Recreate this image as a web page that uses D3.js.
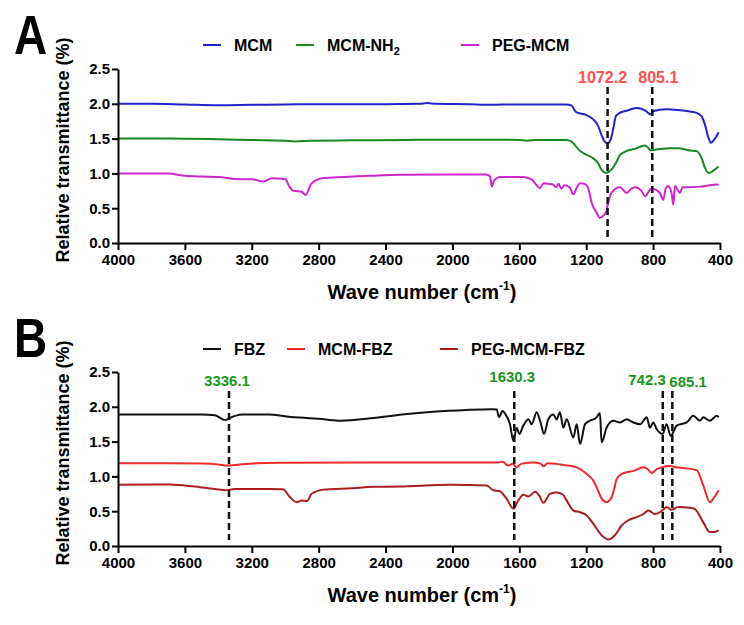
<!DOCTYPE html>
<html><head><meta charset="utf-8">
<script src="https://cdn.jsdelivr.net/npm/d3@7"></script>
<style>
html,body{margin:0;padding:0;background:#fff;}
svg text{font-family:"Liberation Sans",Arial,sans-serif;font-weight:bold;}
</style></head>
<body>
<svg id="c" width="744" height="625"></svg>
<script>
// ---- data (wave number cm^-1, relative transmittance) ----
const xTicks = [4000,3600,3200,2800,2400,2000,1600,1200,800,400];
const yTicks = [0,0.5,1.0,1.5,2.0,2.5];

const MCM = [[4000,2.0],[3800,2.0],[3600,1.99],[3400,1.98],[3200,1.985],[3000,1.99],[2800,1.995],[2600,1.995],[2400,1.995],[2200,2.0],[2150,2.01],[2100,2.0],[1900,1.995],[1800,1.985],[1700,1.99],[1600,1.99],[1450,1.99],[1320,1.99],[1290,1.98],[1260,1.88],[1200,1.84],[1160,1.78],[1130,1.69],[1110,1.56],[1090,1.46],[1074,1.43],[1055,1.48],[1040,1.62],[1023,1.82],[1000,1.87],[960,1.90],[900,1.94],[870,1.93],[840,1.89],[815,1.85],[800,1.89],[770,1.91],[720,1.92],[650,1.91],[580,1.89],[540,1.87],[510,1.82],[490,1.70],[470,1.52],[455,1.44],[430,1.50],[408,1.59]];

const MCM_NH2 = [[4000,1.50],[3700,1.50],[3400,1.49],[3200,1.48],[3000,1.47],[2940,1.46],[2850,1.47],[2600,1.475],[2300,1.48],[2000,1.485],[1800,1.485],[1600,1.48],[1556,1.47],[1500,1.48],[1320,1.48],[1290,1.46],[1240,1.33],[1200,1.27],[1160,1.22],[1130,1.15],[1108,1.05],[1082,1.005],[1050,1.05],[1020,1.16],[1000,1.26],[960,1.32],[900,1.36],[870,1.39],[850,1.40],[830,1.37],[815,1.33],[790,1.34],[760,1.35],[700,1.36],[650,1.36],[580,1.33],[540,1.32],[510,1.22],[490,1.08],[465,1.005],[440,1.04],[408,1.10]];

const PEG_MCM = [[4000,1.0],[3800,1.0],[3700,1.0],[3600,0.965],[3500,0.955],[3400,0.95],[3300,0.92],[3200,0.915],[3130,0.885],[3080,0.93],[3040,0.925],[3000,0.92],[2975,0.81],[2950,0.75],[2905,0.74],[2877,0.69],[2845,0.85],[2780,0.93],[2650,0.95],[2500,0.965],[2300,0.98],[2000,0.985],[1800,0.985],[1775,0.96],[1765,0.81],[1750,0.90],[1735,0.93],[1716,0.95],[1578,0.95],[1526,0.91],[1500,0.84],[1476,0.79],[1455,0.86],[1430,0.85],[1400,0.84],[1380,0.80],[1365,0.85],[1350,0.78],[1330,0.83],[1300,0.80],[1277,0.70],[1255,0.80],[1237,0.86],[1210,0.85],[1190,0.80],[1167,0.575],[1137,0.43],[1118,0.36],[1095,0.40],[1080,0.45],[1074,0.52],[1049,0.72],[999,0.80],[958,0.72],[930,0.78],[908,0.80],[870,0.75],[848,0.67],[820,0.76],[808,0.78],[780,0.76],[760,0.72],[739,0.62],[725,0.78],[710,0.82],[690,0.72],[679,0.55],[670,0.82],[650,0.75],[639,0.72],[625,0.80],[600,0.80],[520,0.81],[460,0.83],[408,0.84]];

const FBZ = [[4000,1.89],[3800,1.89],[3500,1.89],[3420,1.88],[3360,1.81],[3330,1.84],[3300,1.87],[3250,1.89],[3100,1.89],[2970,1.855],[2870,1.84],[2770,1.82],[2670,1.80],[2470,1.84],[2300,1.89],[2115,1.93],[1915,1.955],[1760,1.965],[1735,1.96],[1722,1.85],[1700,1.94],[1680,1.88],[1656,1.75],[1636,1.51],[1616,1.70],[1600,1.61],[1576,1.73],[1546,1.82],[1526,1.75],[1496,1.92],[1476,1.80],[1452,1.61],[1427,1.82],[1397,1.89],[1377,1.82],[1357,1.92],[1337,1.70],[1317,1.82],[1277,1.56],[1257,1.75],[1237,1.465],[1207,1.75],[1177,1.80],[1137,1.85],[1118,1.91],[1108,1.49],[1078,1.70],[1038,1.80],[998,1.775],[958,1.82],[918,1.775],[878,1.75],[838,1.85],[819,1.70],[799,1.775],[779,1.68],[743,1.61],[719,1.75],[695,1.58],[659,1.73],[599,1.775],[560,1.87],[520,1.80],[500,1.85],[460,1.80],[420,1.87],[408,1.85]];

const MCM_FBZ = [[4000,1.19],[3700,1.19],[3500,1.185],[3400,1.17],[3350,1.155],[3300,1.165],[3170,1.19],[3000,1.195],[2500,1.20],[2200,1.20],[1900,1.20],[1726,1.20],[1700,1.21],[1666,1.155],[1640,1.18],[1616,1.13],[1590,1.18],[1516,1.20],[1470,1.18],[1456,1.145],[1430,1.19],[1380,1.18],[1327,1.16],[1290,1.15],[1257,1.13],[1197,1.035],[1158,0.94],[1130,0.80],[1108,0.68],[1078,0.63],[1048,0.70],[1030,0.85],[1018,0.965],[988,1.035],[918,1.08],[858,1.13],[830,1.10],[808,1.05],[780,1.10],[749,1.13],[699,1.15],[660,1.13],[619,1.12],[540,1.09],[500,0.87],[460,0.63],[440,0.68],[408,0.80]];

const PEG_MCM_FBZ = [[4000,0.88],[3700,0.885],[3600,0.87],[3510,0.845],[3420,0.82],[3360,0.80],[3300,0.82],[3100,0.82],[3013,0.815],[2971,0.70],[2931,0.63],[2900,0.655],[2870,0.645],[2842,0.75],[2772,0.81],[2600,0.83],[2473,0.85],[2314,0.855],[2015,0.88],[1795,0.87],[1756,0.80],[1720,0.79],[1676,0.68],[1636,0.535],[1606,0.655],[1576,0.735],[1546,0.71],[1506,0.78],[1480,0.72],[1456,0.62],[1417,0.75],[1377,0.77],[1340,0.74],[1317,0.655],[1277,0.51],[1237,0.485],[1197,0.44],[1158,0.32],[1108,0.155],[1068,0.095],[1028,0.155],[988,0.295],[948,0.37],[898,0.415],[858,0.46],[828,0.51],[789,0.46],[750,0.50],[719,0.56],[690,0.52],[649,0.56],[580,0.55],[550,0.53],[500,0.34],[460,0.20],[440,0.20],[408,0.225]];

const namesA = ["MCM","MCM-NH2","PEG-MCM"];
const colorsA = ["#2323c9","#17891f","#cf25cf"];
const namesB = ["FBZ","MCM-FBZ","PEG-MCM-FBZ"];
const colorsB = ["#111111","#ee2a2a","#ad1d1d"];
const marksA = [1072.2, 805.1];
const marksB = [3336.1, 1630.3, 742.3, 685.1];

// ---- drawing ----
const svg = d3.select("#c");
const x = d3.scaleLinear().domain([4000,400]).range([118,720]);

function panel(cfg){
  const y = d3.scaleLinear().domain([0,2.5]).range([cfg.y0, cfg.y0-174]);
  const g = svg.append("g");
  // panel letter
  g.append("text").attr("x",14).attr("y",cfg.y0-189).attr("font-size",56)
    .attr("transform",`translate(14,${cfg.y0-189}) scale(0.82,1) translate(-14,${-(cfg.y0-189)})`)
    .text(cfg.letter);
  // series
  const line = d3.line().x(d=>x(d[0])).y(d=>y(d[1])).curve(d3.curveMonotoneX);
  cfg.series.forEach((s,i)=>{
    g.append("path").attr("d",line(s)).attr("fill","none")
      .attr("stroke",cfg.colors[i]).attr("stroke-width",2).attr("stroke-linejoin","round");
  });
  // dashed marker lines
  cfg.marks.forEach((m,i)=>{
    g.append("line").attr("x1",x(m)).attr("x2",x(m))
      .attr("y1",cfg.markTop).attr("y2",cfg.y0-6)
      .attr("stroke","#111").attr("stroke-width",2.5).attr("stroke-dasharray","7,4");
    const lab = cfg.markLabels[i];
    g.append("text").attr("x",x(m)+lab.dx).attr("y",lab.y)
      .attr("text-anchor",lab.anchor).attr("font-size",cfg.markSize)
      .attr("fill",cfg.markColor).text(m.toFixed(1));
  });
  // axes
  const xa = g.append("g").attr("transform",`translate(0,${cfg.y0})`)
    .call(d3.axisBottom(x).tickValues(xTicks).tickFormat(d3.format("d")).tickSize(7).tickSizeOuter(0).tickPadding(4));
  const ya = g.append("g").attr("transform",`translate(118,0)`)
    .call(d3.axisLeft(y).tickValues(yTicks).tickFormat(d3.format(".1f")).tickSize(6).tickSizeOuter(0).tickPadding(2));
  [xa,ya].forEach(a=>{
    a.selectAll("path,line").attr("stroke","#000").attr("stroke-width",2);
    a.selectAll("text").attr("font-size",15).attr("fill","#000")
      .attr("font-family","'Liberation Sans',Arial,sans-serif").attr("font-weight","bold");
  });
  // axis titles
  const xt = g.append("text").attr("x",422).attr("y",cfg.y0+56).attr("text-anchor","middle").attr("font-size",20);
  xt.append("tspan").text("Wave number (cm");
  xt.append("tspan").attr("font-size",12).attr("dy",-9).text("-1");
  xt.append("tspan").attr("dy",9).text(")");
  g.append("text").attr("transform",`translate(69,${cfg.y0-93}) rotate(-90)`)
    .attr("text-anchor","middle").attr("font-size",18).text("Relative transmittance (%)");
  // legend
  cfg.legend.forEach((L,i)=>{
    g.append("line").attr("x1",L.x).attr("x2",L.x+18).attr("y1",cfg.legY).attr("y2",cfg.legY)
      .attr("stroke",cfg.colors[i]).attr("stroke-width",2);
    const t = g.append("text").attr("x",L.x+31).attr("y",cfg.legY+6).attr("font-size",16);
    const nm = cfg.names[i];
    if(nm==="MCM-NH2"){ t.append("tspan").text("MCM-NH"); t.append("tspan").attr("font-size",11).attr("dy",4).text("2"); }
    else t.text(nm);
  });
}

panel({letter:"A", y0:243, series:[MCM,MCM_NH2,PEG_MCM], colors:colorsA, names:namesA,
  marks:marksA, markTop:87, markColor:"#ff4f4f", markSize:16,
  markLabels:[{dx:-5,y:83,anchor:"middle"},{dx:-14,y:83,anchor:"start"}],
  legY:45, legend:[{x:203},{x:296},{x:461}]});

panel({letter:"B", y0:546, series:[FBZ,MCM_FBZ,PEG_MCM_FBZ], colors:colorsB, names:namesB,
  marks:marksB, markTop:391, markColor:"#1c961c", markSize:15,
  markLabels:[{dx:-2,y:386,anchor:"middle"},{dx:-2,y:382,anchor:"middle"},{dx:3,y:385,anchor:"end"},{dx:-3,y:387,anchor:"start"}],
  legY:349, legend:[{x:203},{x:287},{x:440}]});
</script>
</body></html>
